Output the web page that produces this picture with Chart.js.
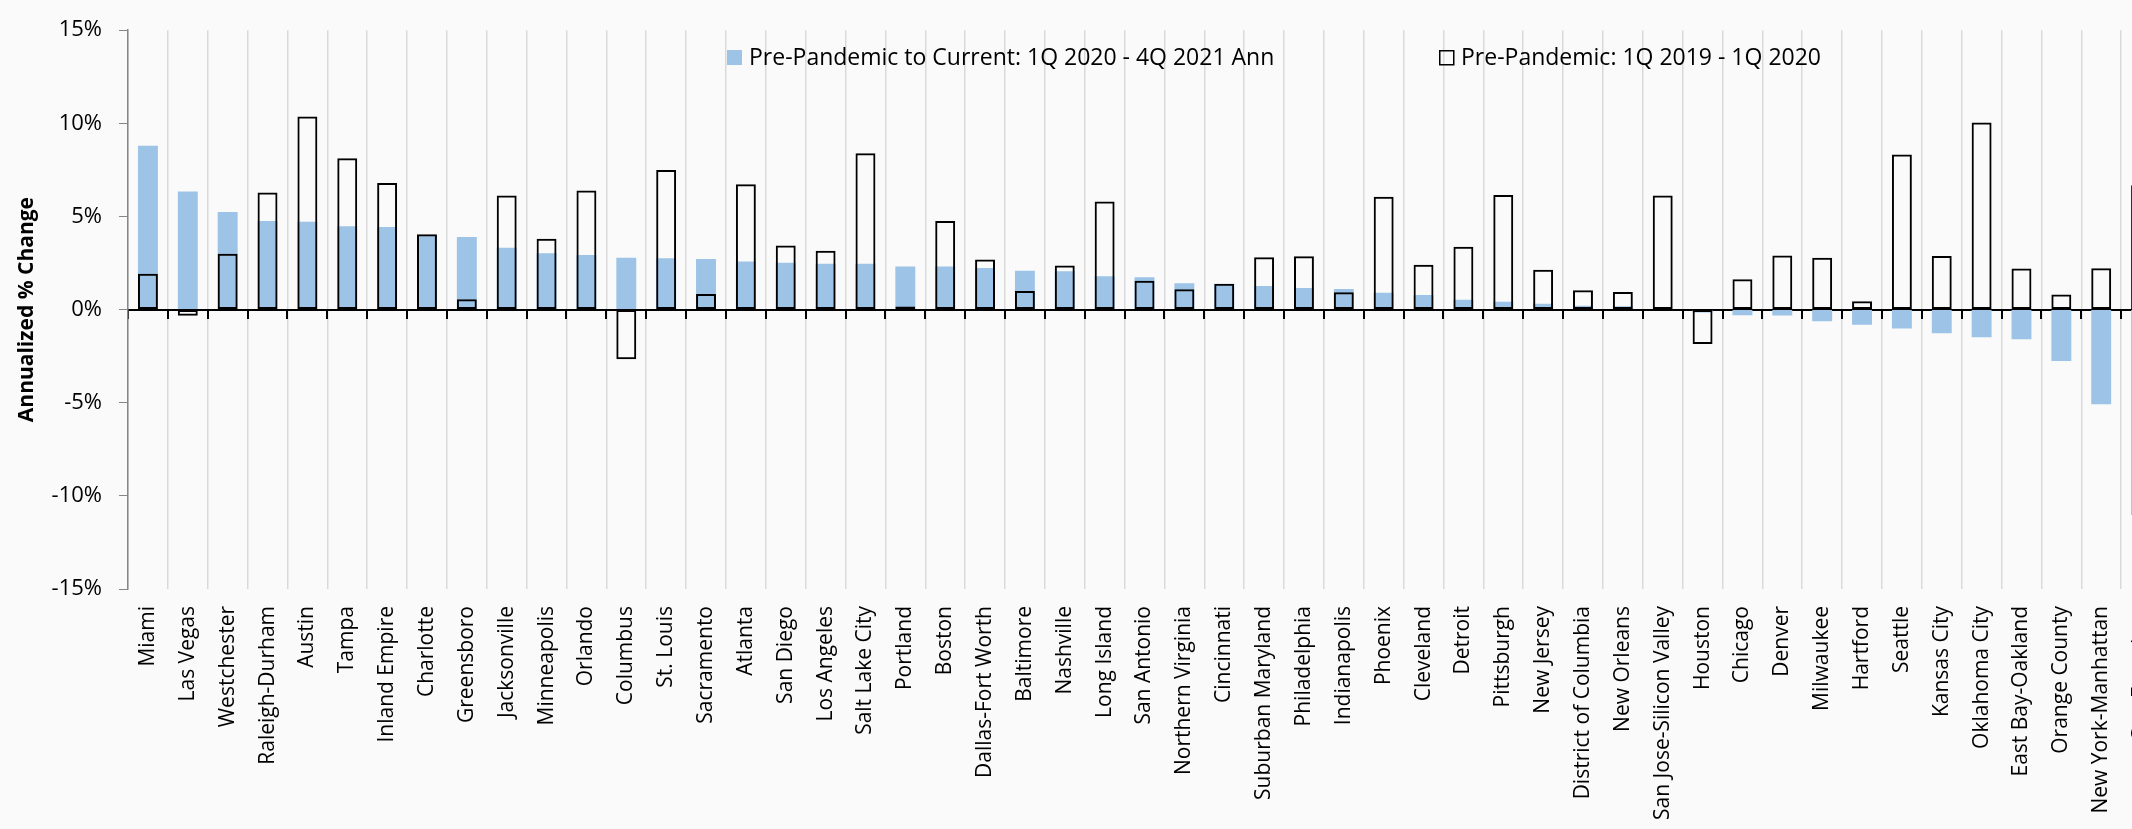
<!DOCTYPE html>
<html>
<head>
<meta charset="utf-8">
<script src="https://cdn.jsdelivr.net/npm/chart.js@4.4.1/dist/chart.umd.min.js"></script>
<style>
  html, body { margin: 0; padding: 0; background: #fafafa; overflow: hidden; width: 2132px; height: 829px; }
  #clip { position: relative; width: 2132px; height: 829px; overflow: hidden; }
  #wrap { position: absolute; left: 0; top: 0; width: 2161px; height: 829px; }
</style>
</head>
<body>
<div id="clip"><div id="wrap"><canvas id="chart" width="2161" height="829"></canvas></div></div>
<script>
/* Metro annualized % change — current vs pre-pandemic */

const metros = [
  'Miami', 'Las Vegas', 'Westchester', 'Raleigh-Durham', 'Austin', 'Tampa', 'Inland Empire',
  'Charlotte', 'Greensboro', 'Jacksonville', 'Minneapolis', 'Orlando', 'Columbus', 'St. Louis',
  'Sacramento', 'Atlanta', 'San Diego', 'Los Angeles', 'Salt Lake City', 'Portland', 'Boston',
  'Dallas-Fort Worth', 'Baltimore', 'Nashville', 'Long Island', 'San Antonio', 'Northern Virginia',
  'Cincinnati', 'Suburban Maryland', 'Philadelphia', 'Indianapolis', 'Phoenix', 'Cleveland',
  'Detroit', 'Pittsburgh', 'New Jersey', 'District of Columbia', 'New Orleans',
  'San Jose-Silicon Valley', 'Houston', 'Chicago', 'Denver', 'Milwaukee', 'Hartford', 'Seattle',
  'Kansas City', 'Oklahoma City', 'East Bay-Oakland', 'Orange County', 'New York-Manhattan',
  'San Francisco'
];

// Pre-Pandemic to Current: 1Q 2020 - 4Q 2021 Ann (blue)
const currentChange = [
  8.79, 6.34, 5.24, 4.76, 4.71, 4.48, 4.43, 4.00, 3.90, 3.32, 3.02, 2.93, 2.79, 2.76,
  2.72, 2.58, 2.51, 2.46, 2.46, 2.32, 2.32, 2.23, 2.09, 2.06, 1.79, 1.74, 1.42, 1.37,
  1.27, 1.16, 1.11, 0.90, 0.79, 0.53, 0.42, 0.32, 0.21, 0.18, 0.05, -0.15, -0.30, -0.32,
  -0.62, -0.81, -1.01, -1.27, -1.49, -1.59, -2.76, -5.08, -11.03
];

// Pre-Pandemic: 1Q 2019 - 1Q 2020 (outline)
const prePandemic = [
  1.93, -0.33, 3.00, 6.29, 10.37, 8.12, 6.80, 4.04, 0.56, 6.12, 3.81, 6.40, -2.67, 7.49,
  0.84, 6.73, 3.44, 3.16, 8.40, 0.16, 4.75, 2.69, 1.00, 2.37, 5.80, 1.55, 1.09, 1.39,
  2.81, 2.86, 0.93, 6.06, 2.41, 3.37, 6.15, 2.14, 1.04, 0.95, 6.12, -1.85, 1.63, 2.90,
  2.79, 0.45, 8.33, 2.88, 10.04, 2.20, 0.81, 2.22, 6.67
];

const yMin = -15, yMax = 15, yStep = 5;

const FONT = "'Open Sans', sans-serif";
const BLUE = '#9dc3e6';

// legend sits inside the plot, two items spread apart
const legendPlugin = {
  id: 'insideLegend',
  afterDraw(chart) {
    const ctx = chart.ctx;
    const ds = chart.data.datasets;
    const items = [
      { x: 727, text: ds[1].label, fill: BLUE, stroke: null },
      { x: 1439, text: ds[0].label, fill: null, stroke: '#000' },
    ];
    ctx.save();
    ctx.font = `23px ${FONT}`;
    ctx.textBaseline = 'middle';
    items.forEach(it => {
      if (it.fill) { ctx.fillStyle = it.fill; ctx.fillRect(it.x, 50, 15, 15); }
      if (it.stroke) { ctx.strokeStyle = it.stroke; ctx.lineWidth = 1.5; ctx.strokeRect(it.x + 0.75, 50.75, 14, 14); }
      ctx.fillStyle = '#000';
      ctx.fillText(it.text, it.x + 22, 58);
    });
    ctx.restore();
  }
};

new Chart(document.getElementById('chart'), {
  type: 'bar',
  data: {
    labels: metros,
    datasets: [
      {
        label: 'Pre-Pandemic: 1Q 2019 - 1Q 2020',
        data: prePandemic,
        backgroundColor: 'rgba(0,0,0,0)',
        borderColor: '#000',
        borderWidth: 2,
        borderSkipped: false,
        grouped: false,
        order: 1,
        barPercentage: 0.5,
        categoryPercentage: 1.0,
      },
      {
        label: 'Pre-Pandemic to Current: 1Q 2020 - 4Q 2021 Ann',
        data: currentChange,
        backgroundColor: BLUE,
        borderWidth: 0,
        grouped: false,
        order: 2,
        barPercentage: 0.5,
        categoryPercentage: 1.0,
      },
    ]
  },
  options: {
    responsive: false,
    animation: false,
    devicePixelRatio: 1,
    layout: { padding: { top: 21, right: 0, bottom: 0, left: 0 } },
    plugins: { legend: { display: false }, tooltip: { enabled: false } },
    scales: {
      x: {
        offset: true,
        grid: { color: '#d9d9d9', lineWidth: 1.5, drawTicks: false, offset: true },
        border: { display: false },
        ticks: {
          autoSkip: false, maxRotation: 90, minRotation: 90, padding: 17,
          color: '#000', font: { family: FONT, size: 21 }
        },
        // plot runs past the right edge, so drop the label padding chart.js adds
        afterFit: s => { s.height = 240; s.paddingLeft = 0; s.paddingRight = 0; }
      },
      x2: {
        type: 'category',
        labels: metros,
        position: { y: 0 },
        offset: true,
        grid: { drawOnChartArea: false, drawTicks: true, tickLength: 8, color: '#000', lineWidth: 2, offset: true },
        border: { display: true, color: '#000', width: 2 },
        ticks: { display: false },
        afterFit: s => { s.height = 0; s.paddingLeft = 0; s.paddingRight = 0; }
      },
      y: {
        min: yMin, max: yMax,
        ticks: {
          stepSize: yStep, padding: 17, color: '#000',
          font: { family: FONT, size: 22 },
          callback: v => v + '%'
        },
        grid: { drawOnChartArea: false, drawTicks: true, tickLength: 9, color: '#868686' },
        border: { display: true, color: '#868686', width: 1.5 },
        title: {
          display: true, text: 'Annualized % Change', color: '#000',
          font: { family: FONT, size: 21, weight: 'bold' },
          padding: { top: 14, bottom: 0 }
        },
        afterFit: s => { s.width = 128; }
      }
    }
  },
  plugins: [legendPlugin]
});
</script>
</body>
</html>
